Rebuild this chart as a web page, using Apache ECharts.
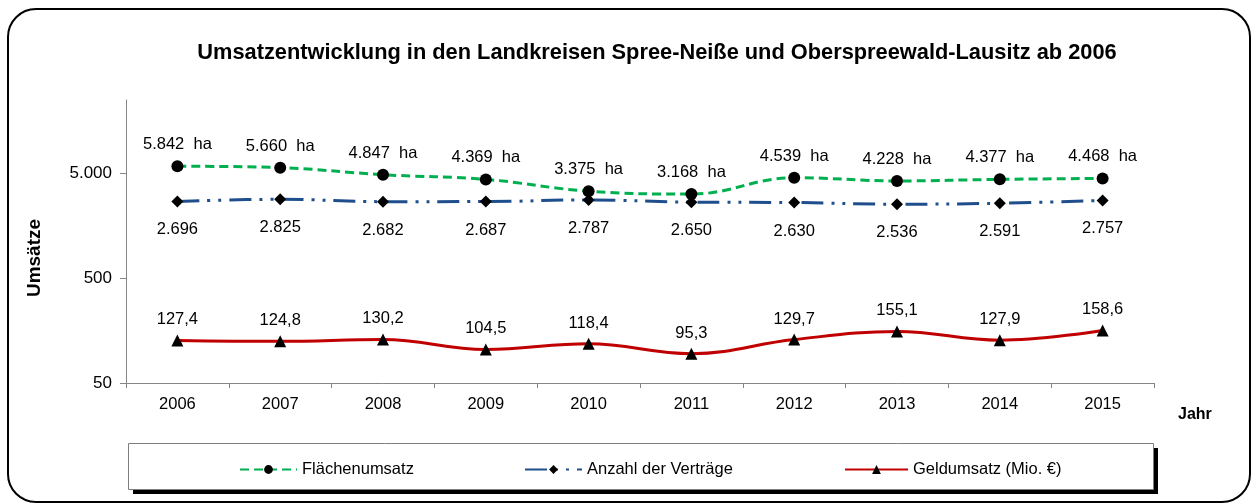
<!DOCTYPE html>
<html><head><meta charset="utf-8">
<script src="https://cdn.jsdelivr.net/npm/echarts@6/dist/echarts.min.js"></script>
<style>html,body{margin:0;padding:0;background:#fff;}#c{width:1253px;height:504px;}</style>
</head><body><div id="c"></div>
<script>
const years = ['2006','2007','2008','2009','2010','2011','2012','2013','2014','2015'];
const flaechenumsatz = [5842, 5660, 4847, 4369, 3375, 3168, 4539, 4228, 4377, 4468];
const anzahlVertraege = [2696, 2825, 2682, 2687, 2787, 2650, 2630, 2536, 2591, 2757];
const geldumsatz = [127.4, 124.8, 130.2, 104.5, 118.4, 95.3, 129.7, 155.1, 127.9, 158.6];
const yTicks = [50, 500, 5000];

function de(v, dec) {
  let s = v.toFixed(dec);
  let [i, f] = s.split('.');
  i = i.replace(/\B(?=(\d{3})+(?!\d))/g, '.');
  return f ? i + ',' + f : i;
}
const FONT = 'Liberation Sans, Arial, sans-serif';
const LBL = 16.5;
const chart = echarts.init(document.getElementById('c'));
chart.setOption({
  animation: false,
  textStyle: { fontFamily: FONT, color: '#000' },
  title: {
    text: 'Umsatzentwicklung in den Landkreisen Spree-Neiße und Oberspreewald-Lausitz ab 2006',
    left: 652, textAlign: 'center', top: 37,
    textStyle: { fontFamily: FONT, fontWeight: 'bold', fontSize: 21.8, color: '#000' }
  },
  graphic: [
    { type: 'rect', shape: { x: 8, y: 9, width: 1242, height: 493, r: 28 }, style: { fill: 'none', stroke: '#000', lineWidth: 2 }, z: -10 },
    { type: 'rect', shape: { x: 133, y: 448, width: 1025, height: 46 }, style: { fill: '#000' }, z: -5 },
    { type: 'rect', shape: { x: 128.5, y: 443.5, width: 1025, height: 46 }, style: { fill: '#fff', stroke: '#7f7f7f', lineWidth: 1 }, z: -4 },
    { type: 'text', x: 35, y: 258, rotation: Math.PI / 2, style: { text: 'Umsätze', font: 'bold 19px Liberation Sans, Arial, sans-serif', fill: '#000', align: 'center', verticalAlign: 'middle' } }
  ],
  grid: { left: 126, right: 99, top: 100, bottom: 121 },
  legend: [
    { data: ['Flächenumsatz'], left: 234, top: 456, itemWidth: 57, itemHeight: 11, itemGap: 6, textStyle: { fontFamily: FONT, fontSize: LBL, color: '#000' } },
    { data: ['Anzahl der Verträge'], left: 519, top: 456, itemWidth: 57, itemHeight: 11, textStyle: { fontFamily: FONT, fontSize: LBL, color: '#000' } },
    { data: ['Geldumsatz (Mio. €)'], left: 839, top: 456, itemWidth: 63, itemHeight: 11, textStyle: { fontFamily: FONT, fontSize: LBL, color: '#000' } }
  ],
  xAxis: {
    type: 'category', data: years, boundaryGap: true,
    name: 'Jahr', nameLocation: 'end', nameGap: 24,
    nameTextStyle: { fontFamily: FONT, fontWeight: 'bold', fontSize: 16, color: '#000', verticalAlign: 'top', padding: [24, 0, 0, 0] },
    axisLine: { lineStyle: { color: '#868686', width: 1 } },
    axisTick: { show: true, alignWithLabel: false, length: 5, lineStyle: { color: '#868686' } },
    axisLabel: { fontFamily: FONT, fontSize: LBL, color: '#000', margin: 13 },
    splitLine: { show: false }
  },
  yAxis: {
    type: 'log', logBase: 10, min: 50, max: 25000,
    axisLine: { show: true, lineStyle: { color: '#868686', width: 1 } },
    axisTick: { show: true, length: 6, lineStyle: { color: '#868686' }, customValues: yTicks },
    axisLabel: { fontFamily: FONT, fontSize: 17, color: '#000', margin: 14, customValues: yTicks, formatter: v => de(v, 0) },
    splitLine: { show: false }
  },
  series: [
    {
      name: 'Flächenumsatz', type: 'line', data: flaechenumsatz, smooth: 0.4,
      symbol: 'circle', symbolSize: 12,
      itemStyle: { color: '#000' },
      lineStyle: { color: '#00B050', width: 3, type: [9, 5] },
      label: { show: true, position: 'top', distance: 7, fontFamily: FONT, fontSize: LBL, color: '#000', formatter: p => de(p.value, 0) + '  ha' }
    },
    {
      name: 'Anzahl der Verträge', type: 'line', data: anzahlVertraege, smooth: 0.4,
      symbol: 'diamond', symbolSize: 12,
      itemStyle: { color: '#000' },
      lineStyle: { color: '#1F4E8C', width: 3, type: [22, 8, 3, 8, 3, 8] },
      label: { show: true, position: 'bottom', distance: 14, fontFamily: FONT, fontSize: LBL, color: '#000', formatter: p => de(p.value, 0) }
    },
    {
      name: 'Geldumsatz (Mio. €)', type: 'line', data: geldumsatz, smooth: 0.4,
      symbol: 'triangle', symbolSize: 12,
      itemStyle: { color: '#000' },
      lineStyle: { color: '#C00000', width: 3, type: 'solid' },
      label: { show: true, position: 'top', distance: 6, fontFamily: FONT, fontSize: LBL, color: '#000', formatter: p => de(p.value, 1) }
    }
  ]
});
</script></body></html>
